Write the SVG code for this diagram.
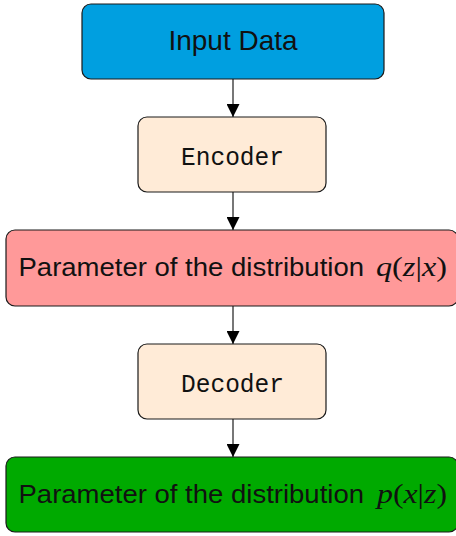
<svg xmlns="http://www.w3.org/2000/svg" width="456" height="536" viewBox="0 0 456 536">
<style>
.box{stroke:#1a1a1a;stroke-width:1.2}
.sans{font-family:"Liberation Sans","DejaVu Sans",sans-serif;font-size:26px;fill:#111}
.mono{font-family:"Liberation Mono","DejaVu Sans Mono",monospace;font-size:25px;fill:#111}
.math{font-family:"Liberation Serif","DejaVu Serif",serif;font-size:28px;fill:#111}
.it{font-style:italic}
.conn{stroke:#555;stroke-width:1.6;fill:none}
</style>
<defs>
<marker id="ah" markerWidth="13" markerHeight="13" refX="13" refY="6.5" orient="auto" markerUnits="userSpaceOnUse">
<path d="M0,0 L13,6.5 L0,13 Z" fill="#000"/>
</marker>
</defs>
<rect width="456" height="536" fill="#fff"/>
<g id="connectors">
<line class="conn" x1="233" y1="79" x2="233" y2="117" marker-end="url(#ah)"/>
<line class="conn" x1="233" y1="192" x2="233" y2="230" marker-end="url(#ah)"/>
<line class="conn" x1="233" y1="306" x2="233" y2="344" marker-end="url(#ah)"/>
<line class="conn" x1="233" y1="419" x2="233" y2="457" marker-end="url(#ah)"/>
</g>
<g id="input">
<rect class="box" x="82" y="4" width="302" height="75" rx="9" fill="#009FE0"/>
<text class="sans" x="233" y="49.5" text-anchor="middle" style="font-size:27.5px" textLength="129" lengthAdjust="spacingAndGlyphs">Input Data</text>
</g>
<g id="encoder">
<rect class="box" x="138" y="117" width="188" height="75" rx="9" fill="#FFEBD7"/>
<text class="mono" x="232.5" y="164.5" text-anchor="middle" textLength="103" lengthAdjust="spacingAndGlyphs">Encoder</text>
</g>
<g id="qparam">
<rect class="box" x="6" y="230" width="452" height="76" rx="9" fill="#FF9999"/>
<text class="sans" x="18.5" y="276" textLength="345.5" lengthAdjust="spacingAndGlyphs">Parameter of the distribution</text>
<text class="math" x="376" y="276" textLength="71" lengthAdjust="spacingAndGlyphs"><tspan class="it">q</tspan>(<tspan class="it">z</tspan>|<tspan class="it">x</tspan>)</text>
</g>
<g id="decoder">
<rect class="box" x="138" y="344" width="188" height="75" rx="9" fill="#FFEBD7"/>
<text class="mono" x="232.5" y="392" text-anchor="middle" textLength="103" lengthAdjust="spacingAndGlyphs">Decoder</text>
</g>
<g id="pparam">
<rect class="box" x="6" y="457" width="452" height="75" rx="9" fill="#00AA00"/>
<text class="sans" x="18.5" y="502.5" textLength="345.5" lengthAdjust="spacingAndGlyphs">Parameter of the distribution</text>
<text class="math" x="377" y="502.5" textLength="70" lengthAdjust="spacingAndGlyphs"><tspan class="it">p</tspan>(<tspan class="it">x</tspan>|<tspan class="it">z</tspan>)</text>
</g>
</svg>
